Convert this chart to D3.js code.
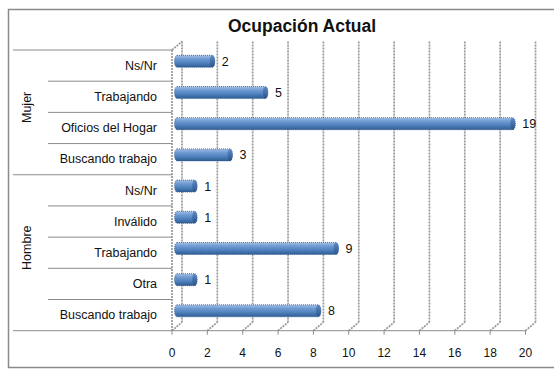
<!DOCTYPE html>
<html>
<head>
<meta charset="utf-8">
<script src="https://cdn.jsdelivr.net/npm/d3@7"></script>
<style>
  body { margin: 0; background: #fff; }
  svg text { font-family: "Liberation Sans", Arial, sans-serif; fill: #111; }
</style>
</head>
<body>
<svg id="chart" width="554" height="369"></svg>
<script>
// chart data
var title = "Ocupación Actual";
var groups = ["Mujer", "Hombre"];
var categories = [
  "Ns/Nr", "Trabajando", "Oficios del Hogar", "Buscando trabajo",
  "Ns/Nr", "Inválido", "Trabajando", "Otra", "Buscando trabajo"
];
var categoryGroup = ["Mujer", "Mujer", "Mujer", "Mujer",
  "Hombre", "Hombre", "Hombre", "Hombre", "Hombre"];
var values = [2, 5, 19, 3, 1, 1, 9, 1, 8];
var tickValues = [0, 2, 4, 6, 8, 10, 12, 14, 16, 18, 20];

var svg = d3.select("#chart");

// plot geometry (front plane) and 3d depth offset
var plotLeft = 172, plotRight = 525.5, plotTop = 50, plotBottom = 330.7;
var depthX = 10, depthY = -8.5;
var labelLeft = 13, subLeft = 48;

var x = d3.scaleLinear().domain([0, 20]).range([plotLeft, plotRight]);
var rowIds = d3.range(categories.length);
var y = d3.scaleBand().domain(rowIds).range([plotTop, plotBottom]);

// outer frame
svg.append("rect")
  .attr("x", 8.5).attr("y", 9.5).attr("width", 560).attr("height", 358)
  .attr("fill", "#fff").attr("stroke", "#8a8a8a").attr("stroke-width", 1.5);

// title
svg.append("text")
  .attr("x", 302).attr("y", 31.5)
  .attr("text-anchor", "middle")
  .style("font-size", "17.5px").style("font-weight", "bold")
  .text(title);

var gridStyle = function(sel) {
  sel.attr("stroke", "#999").attr("stroke-width", 1.7).attr("stroke-dasharray", "2,1").attr("fill", "none");
};

// back wall gridlines
svg.append("g").selectAll("line").data(tickValues).enter().append("line")
  .attr("x1", function(d) { return x(d) + depthX; })
  .attr("x2", function(d) { return x(d) + depthX; })
  .attr("y1", plotTop + depthY)
  .attr("y2", plotBottom + depthY)
  .call(gridStyle);

// floor diagonals
svg.append("g").selectAll("line").data(tickValues).enter().append("line")
  .attr("x1", function(d) { return x(d); })
  .attr("x2", function(d) { return x(d) + depthX; })
  .attr("y1", plotBottom)
  .attr("y2", plotBottom + depthY)
  .call(gridStyle);

// left side wall
svg.append("line")
  .attr("x1", plotLeft).attr("x2", plotLeft).attr("y1", plotTop).attr("y2", plotBottom)
  .call(gridStyle);
svg.append("line")
  .attr("x1", plotLeft).attr("x2", plotLeft + depthX).attr("y1", plotTop).attr("y2", plotTop + depthY)
  .call(gridStyle);

// bar gradients
var defs = svg.append("defs");
var body = defs.append("linearGradient").attr("id", "barBody")
  .attr("x1", 0).attr("y1", 0).attr("x2", 0).attr("y2", 1);
body.append("stop").attr("offset", "0%").attr("stop-color", "#a3c0e6");
body.append("stop").attr("offset", "30%").attr("stop-color", "#6f9ad2");
body.append("stop").attr("offset", "60%").attr("stop-color", "#5284c0");
body.append("stop").attr("offset", "100%").attr("stop-color", "#2f5c93");
var cap = defs.append("linearGradient").attr("id", "barCap")
  .attr("x1", 0).attr("y1", 0).attr("x2", 0).attr("y2", 1);
cap.append("stop").attr("offset", "0%").attr("stop-color", "#5d8bc6");
cap.append("stop").attr("offset", "100%").attr("stop-color", "#2a5488");

// bars as horizontal cylinders placed at mid depth
var barH = 12, rx = 2.5;
var midX = depthX / 2, midY = depthY / 2;
var bars = svg.append("g").selectAll("g").data(values).enter().append("g");

bars.append("path")
  .attr("d", function(d, i) {
    var x0 = x(0) + midX, x1 = x(d) + midX;
    var cy = y(i) + y.bandwidth() / 2 + midY;
    var y0 = cy - barH / 2, y1 = cy + barH / 2;
    return "M" + x0 + "," + y0 + "L" + x1 + "," + y0 +
      "A" + rx + "," + (barH / 2) + " 0 0 1 " + x1 + "," + y1 +
      "L" + x0 + "," + y1 +
      "A" + rx + "," + (barH / 2) + " 0 0 1 " + x0 + "," + y0 + "Z";
  })
  .attr("fill", "url(#barBody)")
  .attr("stroke", "#2f5b8f").attr("stroke-width", 0.8).attr("stroke-dasharray", "1,1");

bars.append("ellipse")
  .attr("cx", function(d) { return x(d) + midX; })
  .attr("cy", function(d, i) { return y(i) + y.bandwidth() / 2 + midY; })
  .attr("rx", rx).attr("ry", barH / 2)
  .attr("fill", "url(#barCap)");

// value labels
bars.append("text")
  .attr("x", function(d) { return x(d) + 14.5; })
  .attr("y", function(d, i) { return y(i) + y.bandwidth() / 2 + midY + 4.5; })
  .style("font-size", "12.5px")
  .text(function(d) { return d; });

// category axis: separators and labels
var sep = svg.append("g").attr("stroke", "#8c8c8c").attr("stroke-width", 1);
rowIds.forEach(function(i) {
  var isGroupStart = i === 0 || categoryGroup[i] !== categoryGroup[i - 1];
  sep.append("line")
    .attr("x1", isGroupStart ? labelLeft : subLeft).attr("x2", plotLeft)
    .attr("y1", y(i)).attr("y2", y(i));
});
sep.append("line")
  .attr("x1", labelLeft).attr("x2", plotRight)
  .attr("y1", plotBottom).attr("y2", plotBottom);

svg.append("g").selectAll("text").data(categories).enter().append("text")
  .attr("x", 157)
  .attr("y", function(d, i) { return y(i) + y.bandwidth() / 2 + 4.3; })
  .attr("text-anchor", "end")
  .style("font-size", "12.5px")
  .text(function(d) { return d; });

// group labels (rotated), sitting a little above the group's middle like the original
groups.forEach(function(g) {
  var rows = rowIds.filter(function(i) { return categoryGroup[i] === g; });
  var cy = (y(rows[0]) + y(rows[rows.length - 1]) + y.bandwidth()) / 2 - 5;
  svg.append("text")
    .attr("transform", "translate(30.5," + cy + ") rotate(-90)")
    .attr("text-anchor", "middle")
    .style("font-size", "12.5px")
    .text(g);
});

// value axis ticks and labels
var xAxis = svg.append("g");
xAxis.selectAll("line").data(tickValues).enter().append("line")
  .attr("x1", function(d) { return x(d); })
  .attr("x2", function(d) { return x(d); })
  .attr("y1", plotBottom).attr("y2", plotBottom + 4)
  .attr("stroke", "#8c8c8c");
xAxis.selectAll("text").data(tickValues).enter().append("text")
  .attr("x", function(d) { return x(d); })
  .attr("y", 357)
  .attr("text-anchor", "middle")
  .style("font-size", "12px")
  .text(function(d) { return d; });
</script>
</body>
</html>
